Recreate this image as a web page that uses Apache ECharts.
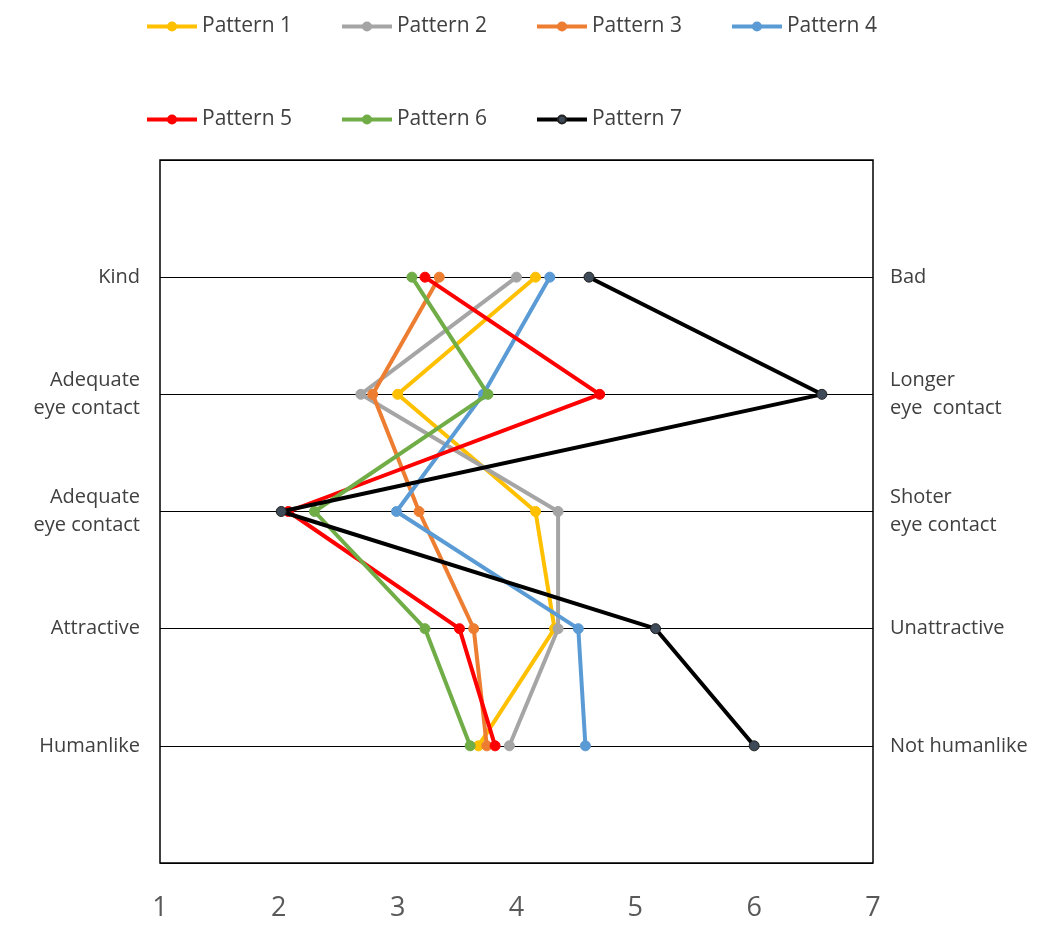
<!DOCTYPE html>
<html>
<head>
<meta charset="utf-8">
<script src="https://cdn.jsdelivr.net/npm/echarts@6/dist/echarts.min.js"></script>
<style>html,body{margin:0;padding:0;background:#fff}#c{width:1058px;height:928px}</style>
</head>
<body>
<div id="c"></div>
<script>
const leftLabels = ['Kind', 'Adequate\neye contact', 'Adequate\neye contact', 'Attractive', 'Humanlike'];
const rightLabels = ['Bad', 'Longer\neye  contact', 'Shoter\neye contact', 'Unattractive', 'Not humanlike'];
const xTicks = ['1', '2', '3', '4', '5', '6', '7'];
const seriesNames = ['Pattern 1', 'Pattern 2', 'Pattern 3', 'Pattern 4', 'Pattern 5', 'Pattern 6', 'Pattern 7'];
const pattern1 = [4.16, 3.00, 4.16, 4.32, 3.68];
const pattern2 = [4.00, 2.69, 4.35, 4.35, 3.94];
const pattern3 = [3.35, 2.79, 3.18, 3.64, 3.75];
const pattern4 = [4.28, 3.72, 2.99, 4.52, 4.58];
const pattern5 = [3.23, 4.70, 2.08, 3.52, 3.82];
const pattern6 = [3.12, 3.76, 2.30, 3.23, 3.61];
const pattern7 = [4.61, 6.57, 2.02, 5.17, 6.00];
const colors = ['#FFC000', '#A5A5A5', '#ED7D31', '#5B9BD5', '#FF0000', '#70AD47', '#000000'];
const markerFill = ['#FFC000', '#A5A5A5', '#ED7D31', '#5B9BD5', '#FF0000', '#70AD47', '#3E4A57'];
const allValues = [pattern1, pattern2, pattern3, pattern4, pattern5, pattern6, pattern7];

const font = '"Open Sans", "Noto Sans", sans-serif';
const chart = echarts.init(document.getElementById('c'), null, {renderer: 'canvas'});

const series = allValues.map((vals, i) => ({
  name: seriesNames[i],
  type: 'line',
  data: vals.map((v, k) => [v, k + 1]),
  symbol: 'circle',
  symbolSize: 10,
  lineStyle: {color: colors[i], width: 4},
  itemStyle: {color: markerFill[i], borderColor: i === 6 ? '#222' : colors[i], borderWidth: 1},
  emphasis: {disabled: true},
  animation: false,
  z: 2 + i
}));

const legendCommon = {
  left: 140,
  itemWidth: 50,
  itemHeight: 10,
  itemGap: 48,
  lineStyle: {width: 4},
  textStyle: {fontFamily: font, fontSize: 21, color: '#404040', width: 100, padding: [0, 0, 0, 0]}
};

chart.setOption({
  backgroundColor: '#fff',
  color: colors,
  legend: [
    Object.assign({}, legendCommon, {top: 11, data: seriesNames.slice(0, 4)}),
    Object.assign({}, legendCommon, {top: 104, data: seriesNames.slice(4)})
  ],
  grid: {left: 160, right: 185, top: 160, bottom: 65, show: true, borderColor: '#000', borderWidth: 1.5, containLabel: false},
  xAxis: {
    type: 'value', min: 1, max: 7, interval: 1,
    axisLine: {show: false}, axisTick: {show: false}, splitLine: {show: false},
    axisLabel: {fontFamily: font, fontSize: 27, color: '#595959', margin: 32,
      formatter: v => xTicks[Math.round(v) - 1]}
  },
  yAxis: [
    {
      type: 'value', min: 0, max: 6, interval: 1, inverse: true, position: 'left',
      axisLine: {show: false}, axisTick: {show: false},
      splitLine: {show: true, lineStyle: {color: '#000', width: 1.2}},
      axisLabel: {fontFamily: font, fontSize: 20, color: '#404040', margin: 20, lineHeight: 28, align: 'right',
        formatter: v => (v >= 1 && v <= 5) ? leftLabels[v - 1] : ''}
    },
    {
      type: 'value', min: 0, max: 6, interval: 1, inverse: true, position: 'right',
      axisLine: {show: false}, axisTick: {show: false}, splitLine: {show: false},
      axisLabel: {fontFamily: font, fontSize: 20, color: '#404040', margin: 17, lineHeight: 28, align: 'left',
        formatter: v => (v >= 1 && v <= 5) ? rightLabels[v - 1] : ''}
    }
  ],
  series: series
});
</script>
</body>
</html>
